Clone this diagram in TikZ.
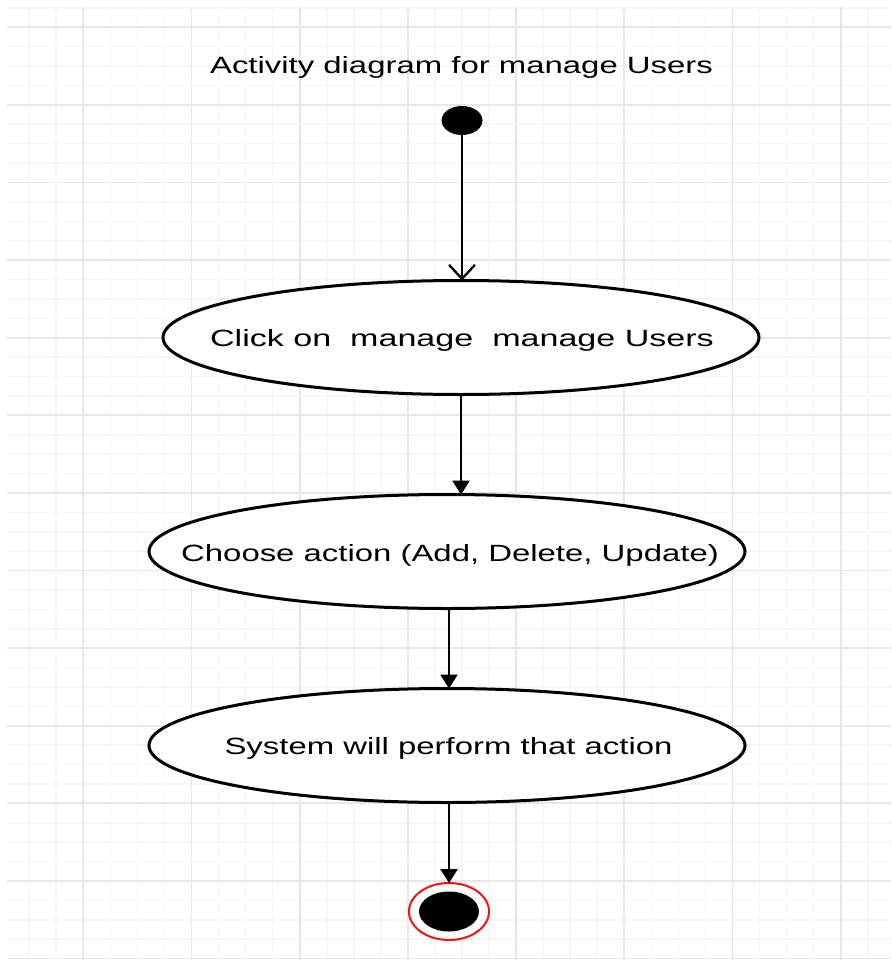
\documentclass[tikz,border=0pt]{standalone}
\usepackage{fontspec}
\usepackage{graphicx}
\setmainfont{Liberation Sans}
\usetikzlibrary{arrows.meta,shapes.geometric}
\newcommand\stretchtxt[2][1.4]{\scalebox{#1}[1]{#2}}
\definecolor{gridmajor}{RGB}{231,231,231}
\definecolor{gridminor}{RGB}{246,246,246}
\definecolor{endred}{RGB}{240,20,20}
\tikzset{
  activity/.style={ellipse, draw=black, line width=3pt, fill=white, minimum width=596pt, minimum height=114pt, inner sep=0pt, outer sep=0pt},
  lbl/.style={font=\fontsize{23.5}{26}\selectfont, text height=16.8pt, text depth=0pt, inner sep=0pt},
  flow/.style={line width=2.5pt, -{Triangle[width=17pt,length=14pt]}},
  openflow/.style={line width=2.3pt, -{Straight Barb[width=26pt,length=14pt]}},
  startnode/.style={ellipse, fill=black, minimum width=41pt, minimum height=29pt, inner sep=0pt, outer sep=0pt},
}
\begin{document}
\begin{tikzpicture}[x=1pt,y=-1pt]
\useasboundingbox (0,0) rectangle (891,960);
\fill[white] (0,0) rectangle (891,960);
% grid
\begin{scope}
\clip (7,7) rectangle (891,960);
\foreach \n in {0,...,31} \draw[gridminor, line width=1.6pt] (29.2+27.05*\n,7) -- (29.2+27.05*\n,960);
\foreach \n in {-1,...,48} \draw[gridminor, line width=1.6pt] (7,27.3+19.4*\n) -- (891,27.3+19.4*\n);
\foreach \k in {0,...,7} \draw[gridmajor, line width=1.8pt] (83.3+108.2*\k,7) -- (83.3+108.2*\k,960);
\foreach \k in {0,...,12} \draw[gridmajor, line width=1.8pt] (7,27.3+77.6*\k) -- (891,27.3+77.6*\k);
\end{scope}
% title
\node[lbl] (title) at (461.5,65) {\stretchtxt{Activity diagram for manage Users}};
% start
\node[startnode] (start) at (462,120.5) {};
% activities
\node[activity] (a1) at (461,337.5) {};
\node[lbl] (t1) at (462,338.5) {\stretchtxt[1.45]{Click on\ \ manage\ \ manage Users}};
\node[activity] (a2) at (447,551.5) {};
\node[lbl] (t2) at (450,553) {\stretchtxt{Choose action (Add, Delete, Update)}};
\node[activity] (a3) at (447,745.5) {};
\node[lbl] (t3) at (448.5,746.5) {\stretchtxt{System will perform that action}};
% end
\node[ellipse, draw=endred, line width=2pt, fill=white, minimum width=80pt, minimum height=57pt, inner sep=0pt, outer sep=0pt] (endn) at (449,911.5) {};
\node[ellipse, fill=black, minimum width=60pt, minimum height=40pt, inner sep=0pt] (endin) at (endn.center) {};
% connectors
\draw[openflow] (start.south) -- (start.south |- a1.north);
\draw[flow] (a1.south) -- (a1.south |- a2.north);
\draw[flow] ([xshift=2pt]a2.south) -- ([xshift=2pt]a3.north);
\draw[flow] (a3.south -| endn.north) -- (endn.north);
\end{tikzpicture}
\end{document}
